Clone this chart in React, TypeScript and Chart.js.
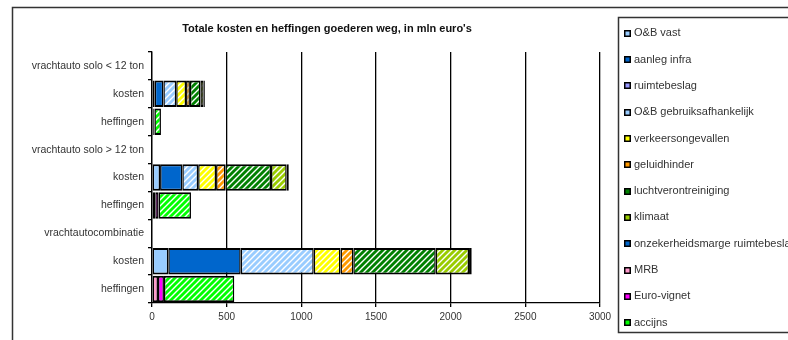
import React, { useEffect, useRef } from "react";
import { Chart, registerables } from "chart.js";
Chart.register(...registerables);

const TITLE = "Totale kosten en heffingen goederen weg, in mln euro's";
const categories = [
  "vrachtauto solo < 12 ton",
  "kosten",
  "heffingen",
  "vrachtauto solo > 12 ton",
  "kosten",
  "heffingen",
  "vrachtautocombinatie",
  "kosten",
  "heffingen",
];
const xMin = 0;
const xMax = 3000;
const xStep = 500;

const seriesLabels = [
  "O&B vast",
  "aanleg infra",
  "ruimtebeslag",
  "O&B gebruiksafhankelijk",
  "verkeersongevallen",
  "geluidhinder",
  "luchtverontreiniging",
  "klimaat",
  "onzekerheidsmarge ruimtebeslag",
  "MRB",
  "Euro-vignet",
  "accijns",
];

const obVast = [null, 18, null, null, 54, null, null, 109, null];
const aanlegInfra = [null, 58, null, null, 149, null, null, 485, null];
const ruimtebeslag = [null, null, null, null, null, null, null, null, null];
const obGebruik = [null, 86, null, null, 106, null, null, 489, null];
const verkeersongevallen = [null, 66, null, null, 120, null, null, 179, null];
const geluidhinder = [null, 26, null, null, 62, null, null, 86, null];
const luchtverontreiniging = [null, 70, null, null, 306, null, null, 552, null];
const klimaat = [null, 22, null, null, 105, null, null, 223, null];
const onzekerheidsmarge = [null, 8, null, null, 14, null, null, 18, null];
const mrb = [null, null, 8, null, null, 22, null, null, 40];
const euroVignet = [null, null, 8, null, null, 22, null, null, 40];
const accijns = [null, null, 44, null, null, 217, null, null, 471];

const seriesValues = [
  obVast,
  aanlegInfra,
  ruimtebeslag,
  obGebruik,
  verkeersongevallen,
  geluidhinder,
  luchtverontreiniging,
  klimaat,
  onzekerheidsmarge,
  mrb,
  euroVignet,
  accijns,
];

const seriesColors = [
  "#99CCFF",
  "#0066CC",
  "#9999FF",
  "#99CCFF",
  "#FFFF00",
  "#FF9900",
  "#008000",
  "#99CC00",
  "#0066CC",
  "#FF99CC",
  "#FF00FF",
  "#00FF00",
];
const seriesHatched = [false, false, false, true, true, true, true, true, false, false, false, true];

const FONT = "'Liberation Sans', Arial, sans-serif";

function makePattern(color: string): CanvasPattern | string {
  const c = document.createElement("canvas");
  c.width = 6;
  c.height = 6;
  const g = c.getContext("2d");
  if (!g) return color;
  g.fillStyle = color;
  g.fillRect(0, 0, 6, 6);
  g.strokeStyle = "#ffffff";
  g.lineWidth = 1.4;
  g.beginPath();
  g.moveTo(0, 6);
  g.lineTo(6, 0);
  g.moveTo(-1, 1);
  g.lineTo(1, -1);
  g.moveTo(5, 7);
  g.lineTo(7, 5);
  g.stroke();
  const p = g.createPattern(c, "repeat");
  return p || color;
}

const framePlugin = {
  id: "frameAndLegend",
  afterDraw(chart: any) {
    const ctx = chart.ctx as CanvasRenderingContext2D;
    ctx.save();
    // outer frame and legend box
    ctx.strokeStyle = "#333333";
    ctx.lineWidth = 1.5;
    ctx.strokeRect(12.5, 7.5, 820, 400);
    ctx.strokeRect(618.5, 17.5, 300, 315);
    // title
    ctx.fillStyle = "#111111";
    ctx.font = "bold 11px " + FONT;
    ctx.textAlign = "center";
    ctx.textBaseline = "middle";
    ctx.fillText(TITLE, 327, 29);
    // legend
    const ds = chart.data.datasets;
    ctx.font = "11px " + FONT;
    ctx.textBaseline = "middle";
    ctx.textAlign = "left";
    for (let i = 0; i < ds.length; i++) {
      const y = 33.3 + i * 26.3;
      ctx.fillStyle = "#000000";
      ctx.fillRect(624, Math.round(y - 3.5), 7, 7);
      ctx.fillStyle = seriesColors[i];
      ctx.fillRect(625.5, Math.round(y - 3.5) + 1.5, 4, 4);
      ctx.fillStyle = "#333333";
      ctx.fillText(ds[i].label, 634, y);
    }
    ctx.restore();
  },
};

export default function App() {
  const ref = useRef<HTMLCanvasElement | null>(null);
  useEffect(() => {
    if (!ref.current) return;
    const datasets = seriesLabels.map((label, i) => ({
      label,
      data: seriesValues[i],
      backgroundColor: seriesHatched[i] ? makePattern(seriesColors[i]) : seriesColors[i],
      borderColor: "#000000",
      borderWidth: { top: 2, bottom: 2, left: 1.5, right: 1.5 },
      borderSkipped: false,
      categoryPercentage: 1,
      barPercentage: 0.95,
    }));
    const chart = new Chart(ref.current, {
      type: "bar",
      data: { labels: categories, datasets: datasets as any },
      options: {
        indexAxis: "y",
        responsive: false,
        animation: false,
        devicePixelRatio: 1,
        layout: { padding: { left: 12, right: 188, top: 52, bottom: 17 } },
        plugins: {
          legend: { display: false },
          tooltip: { enabled: false },
          title: { display: false },
        },
        scales: {
          x: {
            stacked: true,
            min: xMin,
            max: xMax,
            afterFit: (s: any) => {
              s.height = 20;
            },
            ticks: {
              stepSize: xStep,
              color: "#333333",
              padding: 4,
              font: { family: FONT, size: 10 },
              callback: (v: any) => String(v),
            },
            grid: { color: "#000000", lineWidth: 1.3, drawTicks: true, tickLength: 4 },
            border: { display: true, color: "#000000", width: 1.3 },
          },
          y: {
            stacked: true,
            afterFit: (s: any) => {
              s.width = 140;
            },
            ticks: {
              color: "#333333",
              padding: 4,
              font: { family: FONT, size: 10.5 },
            },
            grid: {
              offset: true,
              drawOnChartArea: false,
              drawTicks: true,
              tickLength: 4,
              color: "#000000",
              lineWidth: 1.3,
            },
            border: { display: true, color: "#000000", width: 1.3 },
          },
        },
      },
      plugins: [framePlugin],
    });
    return () => chart.destroy();
  }, []);
  return (
    <div style={{ position: "absolute", left: 0, top: 0, width: 788, height: 340, overflow: "hidden", background: "#ffffff" }}>
      <canvas ref={ref} width={788} height={340} style={{ width: 788, height: 340, display: "block" }} />
    </div>
  );
}
